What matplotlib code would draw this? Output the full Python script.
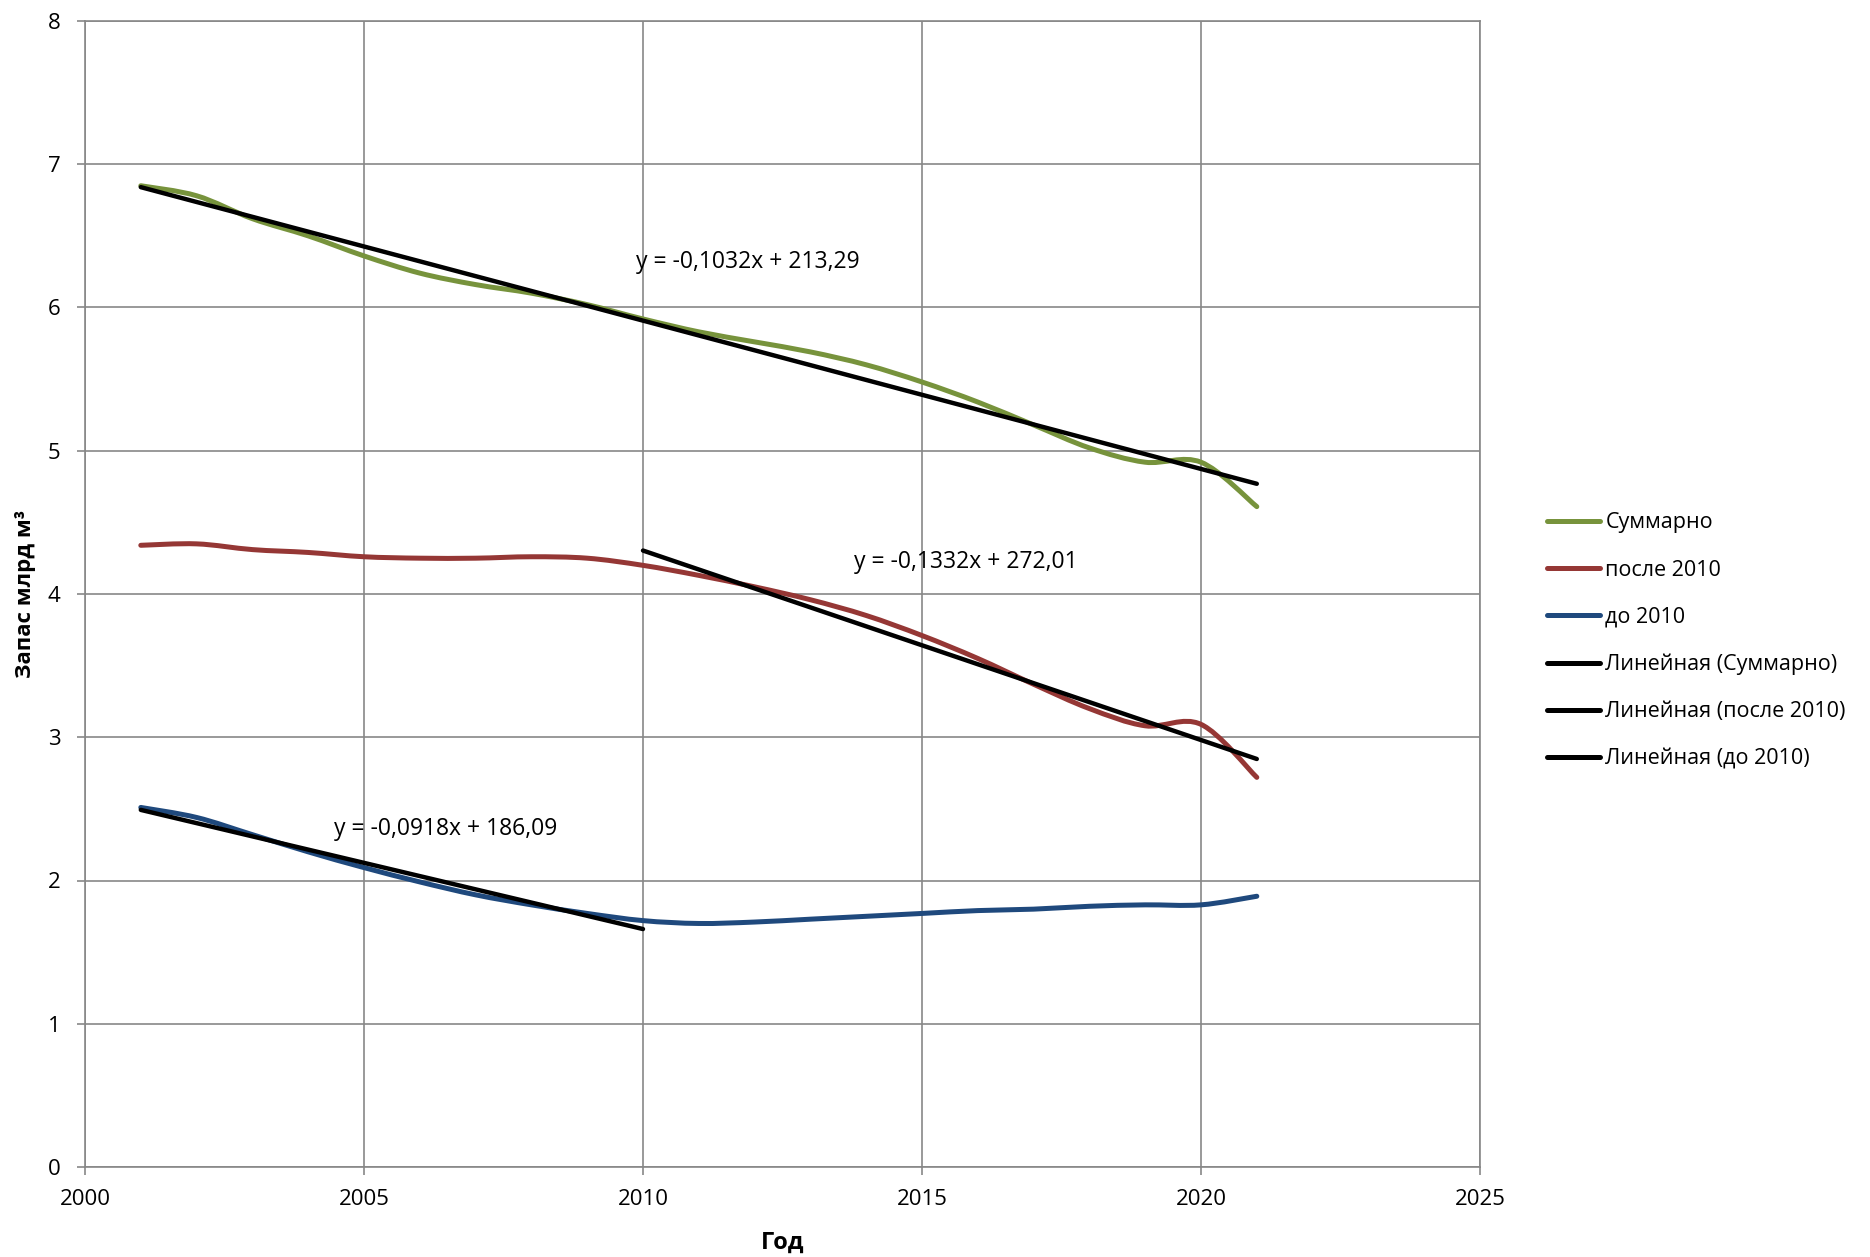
import numpy as np
import matplotlib
matplotlib.use("Agg")
import matplotlib.pyplot as plt
from matplotlib.path import Path
from matplotlib.patches import PathPatch
from matplotlib.lines import Line2D

plt.rcParams['font.family'] = ['Open Sans', 'DejaVu Sans']

# data
years = [2001, 2002, 2003, 2004, 2005, 2006, 2007, 2008, 2009, 2010, 2011,
         2012, 2013, 2014, 2015, 2016, 2017, 2018, 2019, 2020, 2021]
total = [6.85, 6.78, 6.62, 6.50, 6.36, 6.24, 6.16, 6.10, 6.02, 5.92, 5.83,
         5.76, 5.69, 5.60, 5.48, 5.34, 5.18, 5.02, 4.92, 4.92, 4.61]
after_2010 = [4.34, 4.35, 4.31, 4.29, 4.26, 4.25, 4.25, 4.26, 4.25, 4.20, 4.13,
              4.05, 3.96, 3.85, 3.71, 3.55, 3.37, 3.20, 3.08, 3.09, 2.72]
before_2010 = [2.51, 2.44, 2.32, 2.20, 2.09, 1.99, 1.90, 1.83, 1.77, 1.72, 1.70,
               1.71, 1.73, 1.75, 1.77, 1.79, 1.80, 1.82, 1.83, 1.83, 1.89]

labels = ["Суммарно", "после 2010", "до 2010",
          "Линейная (Суммарно)", "Линейная (после 2010)", "Линейная (до 2010)"]
eq_texts = ["y = -0,1032x + 213,29", "y = -0,1332x + 272,01", "y = -0,0918x + 186,09"]
eq_pos = [(2009.87, 6.32), (2013.78, 4.22), (2004.46, 2.36)]

GREEN = "#77933C"
RED = "#953735"
BLUE = "#1F497D"
GRID = "#878787"


def smooth_path(x, y):
    # excel-like smoothed line: cubic bezier through the points
    x = np.asarray(x, float)
    y = np.asarray(y, float)
    n = len(x)
    verts = [(x[0], y[0])]
    codes = [Path.MOVETO]
    for i in range(n - 1):
        p0 = np.array([x[max(i - 1, 0)], y[max(i - 1, 0)]])
        p1 = np.array([x[i], y[i]])
        p2 = np.array([x[i + 1], y[i + 1]])
        p3 = np.array([x[min(i + 2, n - 1)], y[min(i + 2, n - 1)]])
        c1 = p1 + (p2 - p0) / 6.0
        c2 = p2 - (p3 - p1) / 6.0
        verts += [tuple(c1), tuple(c2), tuple(p2)]
        codes += [Path.CURVE4, Path.CURVE4, Path.CURVE4]
    return Path(verts, codes)


fig = plt.figure(figsize=(18.7, 12.57), dpi=100)
ax = fig.add_axes([85 / 1870, 1 - 1167 / 1257, 1395 / 1870, 1146 / 1257])

for vals, col in [(total, GREEN), (after_2010, RED), (before_2010, BLUE)]:
    patch = PathPatch(smooth_path(years, vals), fill=False, edgecolor=col,
                      lw=3.6, capstyle='round', joinstyle='round', zorder=3)
    ax.add_patch(patch)

yr = np.array(years)
tot = np.array(total)
aft = np.array(after_2010)
bef = np.array(before_2010)

# linear trend lines
fits = [(yr, tot), (yr[yr >= 2010], aft[yr >= 2010]), (yr[yr <= 2010], bef[yr <= 2010])]
for xs, ys in fits:
    k, b = np.polyfit(xs, ys, 1)
    ends = np.array([xs[0], xs[-1]])
    ax.plot(ends, k * ends + b, color="black", lw=3.2, solid_capstyle='round', zorder=4)

for txt, (ex, ey) in zip(eq_texts, eq_pos):
    ax.text(ex, ey, txt, fontsize=16.5, ha='left', va='center', color='black', zorder=5)

ax.set_xlim(2000, 2025)
ax.set_ylim(0, 8)
ax.set_xticks(range(2000, 2026, 5))
ax.set_yticks(range(0, 9))
ax.grid(True, color=GRID, lw=1.2)
ax.set_axisbelow(True)
for s in ax.spines.values():
    s.set_color(GRID)
    s.set_linewidth(1.2)
ax.tick_params(axis='both', direction='out', length=5.5, width=1.2, color=GRID,
               labelsize=16, labelcolor='black')
ax.tick_params(axis='y', pad=12)
ax.tick_params(axis='x', pad=10)

ax.set_xlabel("Год", fontsize=17, fontweight='bold')
ax.xaxis.label.set_va('center')
ax.xaxis.set_label_coords(0.5, -0.066)
ax.set_ylabel("Запас млрд м³", fontsize=16, fontweight='bold')
ax.yaxis.label.set_va('center')
ax.yaxis.set_label_coords(-0.0423, 0.5)

handles = [Line2D([], [], color=GREEN, lw=3.6, solid_capstyle='round'),
           Line2D([], [], color=RED, lw=3.6, solid_capstyle='round'),
           Line2D([], [], color=BLUE, lw=3.6, solid_capstyle='round'),
           Line2D([], [], color='black', lw=3.6, solid_capstyle='round'),
           Line2D([], [], color='black', lw=3.6, solid_capstyle='round'),
           Line2D([], [], color='black', lw=3.6, solid_capstyle='round')]
fig.legend(handles, labels, loc='center left', bbox_to_anchor=(1547 / 1870, 1 - 641 / 1257),
           frameon=False, fontsize=15.5, handlelength=2.46, handletextpad=0.25,
           labelspacing=1.215, borderpad=0, borderaxespad=0)

fig.savefig("out.png", dpi=100)
